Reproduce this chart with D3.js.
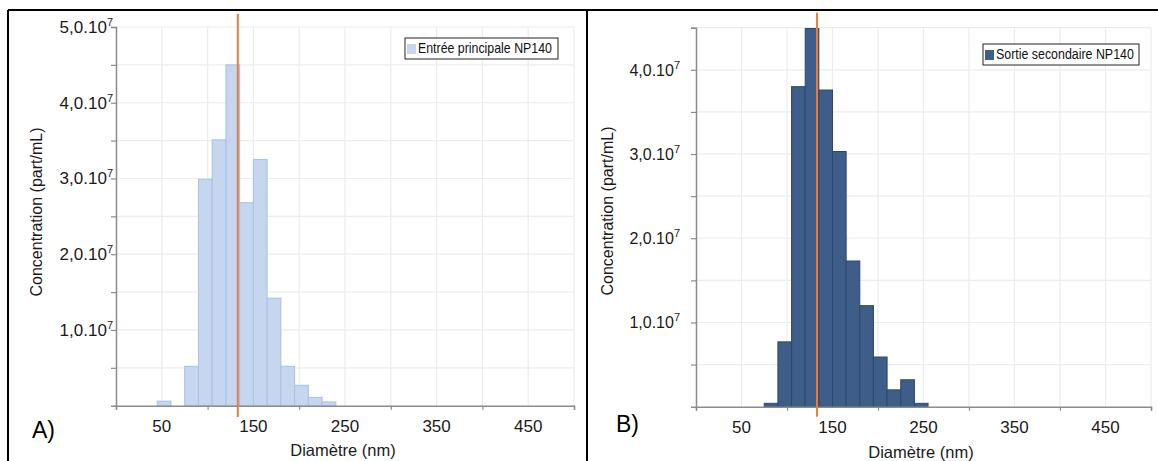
<!DOCTYPE html>
<html>
<head>
<meta charset="utf-8">
<script src="https://cdn.jsdelivr.net/npm/d3@7"></script>
<style>
  html, body { margin: 0; padding: 0; background: #fff; }
  svg { display: block; font-family: "Liberation Sans", Arial, sans-serif; }
</style>
</head>
<body>
<svg id="chart" width="1158" height="461"></svg>
<script>
// ---- data ----
const binWidth = 15; // nm
const binStartsA = [45, 60, 75, 90, 105, 120, 135, 150, 165, 180, 195, 210, 225];
const valuesA = [0.6e6, 0, 5.2e6, 29.9e6, 35.1e6, 45.0e6, 26.8e6, 32.5e6, 14.2e6, 5.2e6, 2.7e6, 1.1e6, 0.5e6];
const binStartsB = [75, 90, 105, 120, 135, 150, 165, 180, 195, 210, 225, 240];
const valuesB = [0.4e6, 7.7e6, 38.0e6, 44.9e6, 37.6e6, 30.3e6, 17.3e6, 12.0e6, 5.9e6, 2.0e6, 3.2e6, 0.4e6];
const medianA = 133;
const medianB = 133;
const xTickLabels = [50, 150, 250, 350, 450];
const xTickMarks = [0, 100, 200, 300, 400, 500];
const yLabelValuesA = [1e7, 2e7, 3e7, 4e7, 5e7];
const yLabelValuesB = [1e7, 2e7, 3e7, 4e7];
const legendA = "Entrée principale NP140";
const legendB = "Sortie secondaire NP140";
const xTitle = "Diamètre (nm)";
const yTitle = "Concentration (part/mL)";

const svg = d3.select("#chart");

// panel frames
svg.append("line").attr("x1", 8).attr("x2", 1158).attr("y1", 10).attr("y2", 10)
  .attr("stroke", "#000").attr("stroke-width", 2);
svg.append("line").attr("x1", 8).attr("x2", 8).attr("y1", 10).attr("y2", 461)
  .attr("stroke", "#000").attr("stroke-width", 2);
svg.append("line").attr("x1", 587).attr("x2", 587).attr("y1", 10).attr("y2", 461)
  .attr("stroke", "#000").attr("stroke-width", 2);

function fmtLabel(sel, v) {
  const m = v / 1e7;
  sel.text(null);
  sel.append("tspan").text(m.toFixed(1).replace(".", ",") + ".10");
  sel.append("tspan").attr("font-size", "11px").attr("dy", "-7").text("7");
}

function panel(cfg) {
  const x = d3.scaleLinear().domain([0, 500]).range([cfg.x0, cfg.x1]);
  const y = d3.scaleLinear().domain([0, cfg.yMax]).range([cfg.y0, cfg.y1]);
  const g = svg.append("g");

  // grid
  const gridV = d3.range(50, 501, 50);
  g.selectAll(".gv").data(gridV).enter().append("line")
    .attr("x1", d => x(d)).attr("x2", d => x(d))
    .attr("y1", y(cfg.yMax)).attr("y2", y(0))
    .attr("stroke", "#ececec").attr("stroke-width", 1.2);
  const gridH = d3.range(5e6, cfg.yMax + 1, 5e6);
  g.selectAll(".gh").data(gridH).enter().append("line")
    .attr("x1", x(0)).attr("x2", x(500))
    .attr("y1", d => y(d)).attr("y2", d => y(d))
    .attr("stroke", "#ececec").attr("stroke-width", 1.2);

  // bars
  g.selectAll(".bar").data(cfg.starts.map((s, i) => ({ s, v: cfg.values[i] })).filter(d => d.v > 0))
    .enter().append("rect")
    .attr("x", d => x(d.s)).attr("width", d => x(d.s + binWidth) - x(d.s))
    .attr("y", d => y(d.v)).attr("height", d => y(0) - y(d.v))
    .attr("fill", cfg.fill).attr("stroke", cfg.stroke).attr("stroke-width", 1);

  // axes
  const xAxis = d3.axisBottom(x).tickValues(xTickMarks).tickSize(4).tickFormat("");
  const gx = g.append("g").attr("transform", `translate(0,${y(0)})`).call(xAxis);
  gx.select(".domain").attr("stroke", "#8c8c8c").attr("stroke-width", 1.5);
  gx.selectAll(".tick line").attr("stroke", "#8c8c8c").attr("stroke-width", 1.2);

  const yAxis = d3.axisLeft(y).tickValues(gridH).tickSize(5).tickFormat("");
  const gy = g.append("g").attr("transform", `translate(${x(0)},0)`).call(yAxis);
  gy.select(".domain").attr("stroke", "#8c8c8c").attr("stroke-width", 1.5);
  gy.selectAll(".tick line").attr("stroke", "#8c8c8c").attr("stroke-width", 1.2);

  // x labels
  g.selectAll(".xl").data(xTickLabels).enter().append("text")
    .attr("x", d => x(d)).attr("y", cfg.xLabelY)
    .attr("text-anchor", "middle").attr("font-size", "17px").attr("fill", "#1a1a1a")
    .text(d => d);

  // y labels
  g.selectAll(".yl").data(cfg.yLabels).enter().append("text")
    .attr("x", cfg.yLabelX).attr("y", d => y(d) + 6)
    .attr("text-anchor", "end").attr("font-size", cfg.yLabelSize).attr("fill", "#1a1a1a")
    .each(function (d) { fmtLabel(d3.select(this), d); });

  // titles
  g.append("text").attr("x", (cfg.titleX)).attr("y", cfg.xTitleY)
    .attr("text-anchor", "middle").attr("font-size", "16.5px").attr("fill", "#1a1a1a")
    .text(xTitle);
  g.append("text")
    .attr("transform", `translate(${cfg.yTitleX},${cfg.yTitleY}) rotate(-90)`)
    .attr("text-anchor", "middle").attr("font-size", "16px").attr("fill", "#1a1a1a")
    .text(yTitle);

  // median line
  g.append("line").attr("x1", x(cfg.median)).attr("x2", x(cfg.median))
    .attr("y1", cfg.medTop).attr("y2", cfg.medBot)
    .attr("stroke", "#ea7d3c").attr("stroke-width", 2);

  // legend
  const lg = g.append("g");
  lg.append("rect").attr("x", cfg.leg.x).attr("y", cfg.leg.y).attr("width", cfg.leg.w).attr("height", cfg.leg.h)
    .attr("fill", "#fff").attr("stroke", "#222").attr("stroke-width", 1);
  lg.append("rect").attr("x", cfg.leg.x + 2).attr("y", cfg.leg.y + 6).attr("width", 9).attr("height", 10)
    .attr("fill", cfg.fill);
  const lt = lg.append("text")
    .attr("font-size", "15px").attr("fill", "#111")
    .text(cfg.legendText);
  const natural = lt.node().getComputedTextLength();
  const sx = Math.min(1, cfg.leg.tw / natural);
  lt.attr("transform", `translate(${cfg.leg.x + 13},${cfg.leg.y + cfg.leg.h - 6}) scale(${sx},1)`);

  // panel letter
  g.append("text").attr("x", cfg.letterX).attr("y", cfg.letterY)
    .attr("font-size", "23px").attr("fill", "#000").text(cfg.letter);
}

panel({
  x0: 116, x1: 574, y0: 405.7, y1: 27, yMax: 5e7,
  starts: binStartsA, values: valuesA, fill: "#c5d6ee", stroke: "#a8c1e4",
  yLabels: yLabelValuesA, yLabelX: 113, yLabelSize: "17px",
  xLabelY: 432, titleX: 343, xTitleY: 456, yTitleX: 42, yTitleY: 212,
  median: medianA, medTop: 14, medBot: 417,
  leg: { x: 405, y: 38, w: 153, h: 21, tw: 134 }, legendText: legendA,
  letter: "A)", letterX: 32, letterY: 438
});

panel({
  x0: 696, x1: 1151, y0: 406.7, y1: 27.7, yMax: 4.5e7,
  starts: binStartsB, values: valuesB, fill: "#3f5d89", stroke: "#2d4870",
  yLabels: yLabelValuesB, yLabelX: 680, yLabelSize: "16px",
  xLabelY: 433, titleX: 921, xTitleY: 458, yTitleX: 613, yTitleY: 211,
  median: medianB, medTop: 12.7, medBot: 416.7,
  leg: { x: 983, y: 44, w: 156, h: 21, tw: 138 }, legendText: legendB,
  letter: "B)", letterX: 616, letterY: 432
});
</script>
</body>
</html>
